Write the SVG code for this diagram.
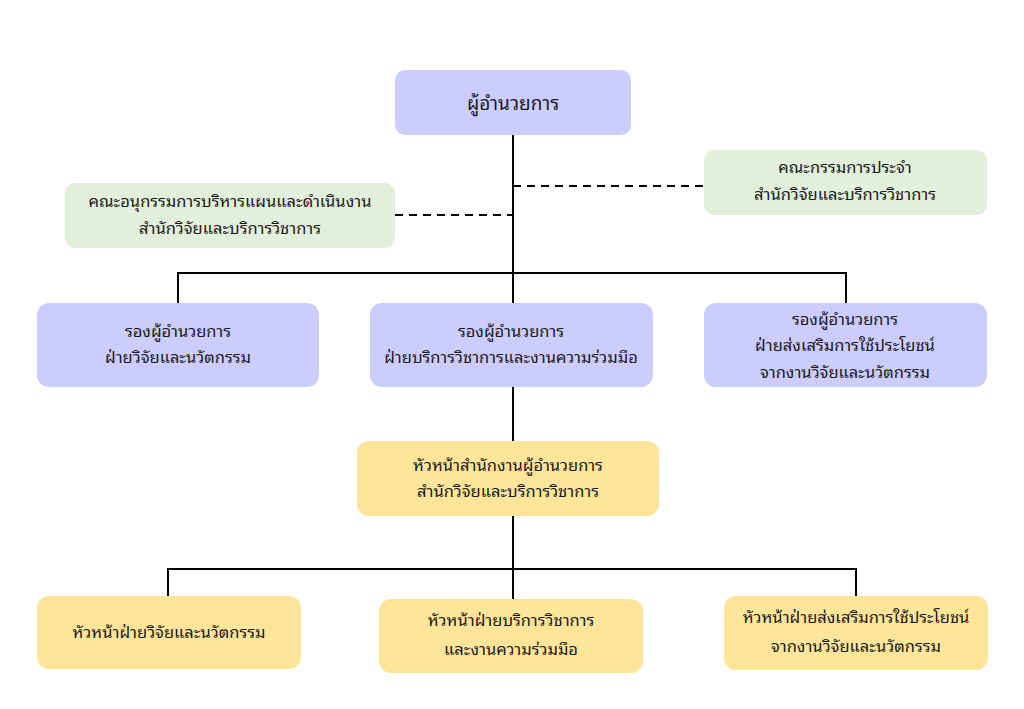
<svg xmlns="http://www.w3.org/2000/svg" width="1024" height="709" viewBox="0 0 1024 709">
<style>
.bg{fill:#ffffff}
.purple{fill:#ccccff}
.green{fill:#e2efda}
.yellow{fill:#ffe599}
.t{font-family:"Noto Sans Thai Looped","Noto Sans Thai","Noto Sans","Liberation Sans",sans-serif;font-size:16.5px;fill:#1a1a1a;text-anchor:middle}
.tt{font-size:19px}
.line{stroke:#000000;stroke-width:2;fill:none}
.dash{stroke:#000000;stroke-width:2;fill:none;stroke-dasharray:8,6}
</style>
<rect class="bg" x="0" y="0" width="1024" height="709"/>
<g id="connectors">
<path class="line" d="M513,135 V303"/>
<path class="dash" d="M513,186 H704"/>
<path class="dash" d="M395,215 H513"/>
<path class="line" d="M178,303 V273 H846 V303"/>
<path class="line" d="M513,387 V441"/>
<path class="line" d="M513,516 V599"/>
<path class="line" d="M168,596 V569 H856 V596"/>
</g>
<g id="director">
<rect class="purple" x="395" y="70" width="236" height="65" rx="10"/>
<text class="t tt" x="513" y="110">ผู้อำนวยการ</text>
</g>
<g id="committee-right">
<rect class="green" x="704" y="150" width="283" height="65" rx="10"/>
<text class="t" x="845" y="173">คณะกรรมการประจำ</text>
<text class="t" x="845" y="200">สำนักวิจัยและบริการวิชาการ</text>
</g>
<g id="committee-left">
<rect class="green" x="65" y="183" width="330" height="65" rx="10"/>
<text class="t" x="230" y="207">คณะอนุกรรมการบริหารแผนและดำเนินงาน</text>
<text class="t" x="230" y="234">สำนักวิจัยและบริการวิชาการ</text>
</g>
<g id="deputy-research">
<rect class="purple" x="37" y="303" width="282" height="84" rx="12"/>
<text class="t" x="178" y="337">รองผู้อำนวยการ</text>
<text class="t" x="178" y="363">ฝ่ายวิจัยและนวัตกรรม</text>
</g>
<g id="deputy-service">
<rect class="purple" x="370" y="303" width="283" height="84" rx="12"/>
<text class="t" x="511" y="337">รองผู้อำนวยการ</text>
<text class="t" x="511" y="363">ฝ่ายบริการวิชาการและงานความร่วมมือ</text>
</g>
<g id="deputy-utilization">
<rect class="purple" x="704" y="303" width="283" height="84" rx="12"/>
<text class="t" x="845" y="325">รองผู้อำนวยการ</text>
<text class="t" x="845" y="351">ฝ่ายส่งเสริมการใช้ประโยชน์</text>
<text class="t" x="845" y="378">จากงานวิจัยและนวัตกรรม</text>
</g>
<g id="head-office">
<rect class="yellow" x="357" y="441" width="302" height="75" rx="12"/>
<text class="t" x="508" y="471">หัวหน้าสำนักงานผู้อำนวยการ</text>
<text class="t" x="508" y="497">สำนักวิจัยและบริการวิชาการ</text>
</g>
<g id="head-research">
<rect class="yellow" x="37" y="596" width="264" height="73" rx="12"/>
<text class="t" x="169" y="638">หัวหน้าฝ่ายวิจัยและนวัตกรรม</text>
</g>
<g id="head-service">
<rect class="yellow" x="379" y="599" width="264" height="74" rx="12"/>
<text class="t" x="511" y="626">หัวหน้าฝ่ายบริการวิชาการ</text>
<text class="t" x="511" y="655">และงานความร่วมมือ</text>
</g>
<g id="head-utilization">
<rect class="yellow" x="724" y="596" width="264" height="74" rx="12"/>
<text class="t" x="856" y="623">หัวหน้าฝ่ายส่งเสริมการใช้ประโยชน์</text>
<text class="t" x="856" y="652">จากงานวิจัยและนวัตกรรม</text>
</g>
</svg>
